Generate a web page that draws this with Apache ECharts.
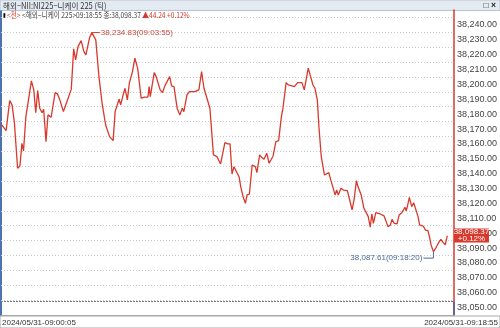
<!DOCTYPE html>
<html><head><meta charset="utf-8">
<script src="https://cdn.jsdelivr.net/npm/echarts@6/dist/echarts.min.js"></script>
<style>html,body{margin:0;padding:0;background:#fff}#c{width:500px;height:328px}</style>
</head><body><div id="c"></div>
<script>
const windowTitle = '해외−NII:NI225−니케이 225 (틱)';
const symbolName = '<해외−니케이 225>';
const tradeDate = '2024/05/31';
// seconds after 09:00:00
const times = [5,18,27,33,39,47,53,58,62,68,
82,88,93,98,103,109,113,119,124,132,
142,148,154,163,171,175,183,189,194,200,
204,208,215,220,224,229,235,245,253,261,
270,280,284,289,294,299,304,308,315,319,
325,330,338,344,351,360,369,377,380,383,
393,398,403,408,414,420,432,437,443,451,
458,464,468,476,482,496,506,513,519,523,
534,543,552,561,572,579,585,590,595,600,
608,612,618,624,628,634,641,645,649,653,
660,665,671,678,684,694,701,708,715,719,
727,733,748,752,756,767,773,777,783,789,
795,800,806,810,816,824,829,835,840,845,
851,855,859,866,872,876,882,888,894,899,
905,909,917,924,929,935,940,944,948,954,
965,975,985,991,995,1001,1008,1013,1020,1024,
1028,1031,1034,1039,1045,1050,1055,1061,1065,1074,
1080,1086,1090,1094,1100,1107,1113,1119,1125,1130,
1135];
const prices = [38173.4,38168.9,38189.1,38186.2,38174.1,38143.6,38145.2,38160.4,38155.3,38178.3,
38202.3,38196.3,38181.0,38195.8,38184.0,38181.0,38183.3,38161.5,38179.5,38177.9,
38194.5,38193.6,38189.6,38181.7,38187.7,38188.4,38196.8,38223.9,38216.5,38225.4,
38224.3,38229.4,38222.0,38219.8,38220.5,38231.1,38234.83,38229.9,38205.2,38187.3,
38172.7,38164.9,38166.0,38162.2,38181.7,38182.4,38190.0,38186.2,38193.6,38197.4,
38189.6,38200.8,38208.6,38217.6,38210.9,38190.7,38191.4,38191.4,38198.5,38191.8,
38207.9,38205.2,38206.4,38196.3,38194.5,38199.0,38205.2,38199.0,38198.5,38184.0,
38179.5,38184.0,38181.7,38192.9,38195.1,38195.1,38196.3,38208.6,38197.4,38197.4,
38184.0,38152.6,38151.4,38146.5,38160.8,38160.0,38160.0,38139.8,38144.7,38144.3,
38137.8,38131.3,38124.5,38120.1,38125.7,38126.3,38145.8,38144.7,38144.7,38140.7,
38152.6,38151.0,38149.7,38153.7,38147.0,38151.9,38161.5,38162.2,38178.3,38184.0,
38201.2,38199.6,38198.5,38198.5,38201.2,38201.2,38196.3,38196.8,38210.9,38205.2,
38199.6,38197.4,38189.6,38171.6,38151.4,38139.1,38139.1,38140.7,38135.8,38135.3,
38125.7,38129.0,38125.7,38130.2,38129.0,38130.2,38128.6,38122.3,38115.6,38122.3,
38135.3,38131.3,38125.7,38116.7,38116.1,38111.1,38104.0,38112.9,38106.6,38113.8,
38112.9,38111.6,38104.4,38105.5,38109.3,38106.6,38106.2,38112.2,38113.8,38115.6,
38117.4,38115.1,38117.8,38124.1,38117.8,38120.5,38119.6,38111.1,38105.5,38104.8,
38102.1,38101.7,38097.6,38092.1,38087.61,38090.5,38093.6,38095.9,38093.6,38092.1,
38098.37];
const prevClose = 38054.13;
const yMin = 38045, yMax = 38250, yStep = 5, yLabelStep = 10;
const xMin = 5, xMax = 1152;

const RED = '#d8392c', BLUE = '#3f62a8';
const NARROW = '"Liberation Sans Narrow","Arial Narrow",sans-serif';
const MIXED = '"Liberation Sans Narrow","Noto Sans CJK KR",sans-serif';
function pad(n){return (n<10?'0':'')+n;}
function hms(s){return pad(9+Math.floor(s/3600))+':'+pad(Math.floor((s%3600)/60))+':'+pad(s%60);}
function fmt(v){return v.toLocaleString('en-US',{minimumFractionDigits:2,maximumFractionDigits:2});}

const series = times.map((t,i)=>[t,prices[i]]);
let iMax=0,iMin=0;
prices.forEach((p,i)=>{if(p>prices[iMax])iMax=i;if(p<prices[iMin])iMin=i;});
const last = prices[prices.length-1];
const chg = last - prevClose;
const pct = chg/prevClose*100;
const pctText = (chg>=0?'+':'')+pct.toFixed(2)+'%';

const chart = echarts.init(document.getElementById('c'));
chart.setOption({
  animation:false,
  grid:{left:1,right:35,top:10,bottom:13},
  xAxis:{type:'value',min:xMin,max:xMax,axisLine:{show:true,lineStyle:{color:'#a8a8a8'}},axisTick:{show:false},axisLabel:{show:false},splitLine:{show:false}},
  yAxis:{type:'value',position:'right',min:yMin,max:yMax,interval:yStep,
    axisLine:{show:true,lineStyle:{color:RED,width:1.5}},
    axisTick:{show:false},
    axisLabel:{margin:3,fontSize:9,fontFamily:NARROW,color:'#444',
      formatter:v=>(v%yLabelStep===0&&v<yMax)?fmt(v):''},
    splitLine:{show:true,showMinLine:false,showMaxLine:false,lineStyle:{color:['rgba(0,0,0,0)','#cbcbcb'],type:[1,2],width:1}}
  },
  series:[{
    type:'line',data:series,showSymbol:false,symbol:'none',z:3,
    lineStyle:{color:RED,width:1.3},
    markLine:{silent:true,symbol:'none',animation:false,
      data:[
        {yAxis:prevClose,lineStyle:{color:'#7a7a7a',type:[2,1],width:1},label:{show:false}},
        [{coord:[xMax,prevClose],lineStyle:{color:BLUE,width:1.5,type:'solid'},label:{show:false}},{coord:[xMax,yMin]}]
      ]},
    markPoint:{silent:true,animation:false,z:20,
      data:[
        {coord:[times[iMax],prices[iMax]],symbol:'rect',symbolSize:[8,1],symbolOffset:[4,0],itemStyle:{color:RED},
          label:{show:true,position:'right',distance:1,color:'#c94a3e',fontSize:8,fontFamily:NARROW,
            formatter:fmt(prices[iMax])+'('+hms(times[iMax])+')'}},
        {coord:[times[iMin],prices[iMin]],symbol:'rect',symbolSize:[10,1],symbolOffset:[-5,6.5],itemStyle:{color:'#4a6a9a'},
          label:{show:true,position:'left',distance:1,color:'#4a6a9a',fontSize:8,fontFamily:NARROW,
            formatter:fmt(prices[iMin])+'('+hms(times[iMin])+')'}},
        {coord:[times[iMin],prices[iMin]],symbol:'rect',symbolSize:[1,6.5],symbolOffset:[0,3.25],itemStyle:{color:'#4a6a9a'},label:{show:false}},
        {coord:[xMax,last],symbol:'rect',symbolSize:[35,14],symbolOffset:[17.5,0],
          itemStyle:{color:RED},
          label:{show:true,position:'inside',color:'#fff',fontSize:8,fontFamily:NARROW,lineHeight:7,
            formatter:fmt(last)+'\n'+pctText}}
      ]}
  }],
  graphic:[
    {type:'rect',shape:{x:0,y:0,width:500,height:10.5},style:{fill:'#e4eaf1',stroke:'#b9c3cf',lineWidth:1},silent:true},
    {type:'text',x:3,y:5.5,scaleX:0.89,style:{text:windowTitle,fill:'#333',fontSize:8.5,fontFamily:MIXED,verticalAlign:'middle'}},
    {type:'text',x:496,y:5.5,style:{text:'□ ×',fill:'#222',fontSize:8.5,fontWeight:'bold',fontFamily:'sans-serif',align:'right',verticalAlign:'middle'}},
    {type:'text',x:3,y:15,z:50,scaleX:0.83,style:{
      text:'{b|▮} {r|<전>} {g|'+symbolName+hms(times[times.length-1])+' 종:'+fmt(last)+'} {r|▲'+chg.toFixed(2)+' '+pctText+'}',
      verticalAlign:'middle',fontSize:8,fontFamily:MIXED,
      rich:{b:{fill:'#000',fontSize:6,fontFamily:'sans-serif'},r:{fill:'#d8392c',fontSize:8,fontFamily:MIXED},g:{fill:'#444',fontSize:8,fontFamily:MIXED}}}},
    {type:'rect',shape:{x:0,y:10.5,width:2,height:305.5},style:{fill:'#4d72ae'},silent:true},
    {type:'rect',shape:{x:0,y:316,width:500,height:12},style:{fill:'#fff',stroke:'#a8a8a8',lineWidth:1},silent:true},
    {type:'text',x:2,y:322.5,style:{text:tradeDate+'-'+hms(times[0]),fill:'#333',fontSize:8,fontFamily:NARROW,verticalAlign:'middle'}},
    {type:'text',x:498,y:322.5,style:{text:tradeDate+'-'+hms(times[times.length-1]),fill:'#333',fontSize:8,fontFamily:NARROW,align:'right',verticalAlign:'middle'}}
  ]
});
</script></body></html>
